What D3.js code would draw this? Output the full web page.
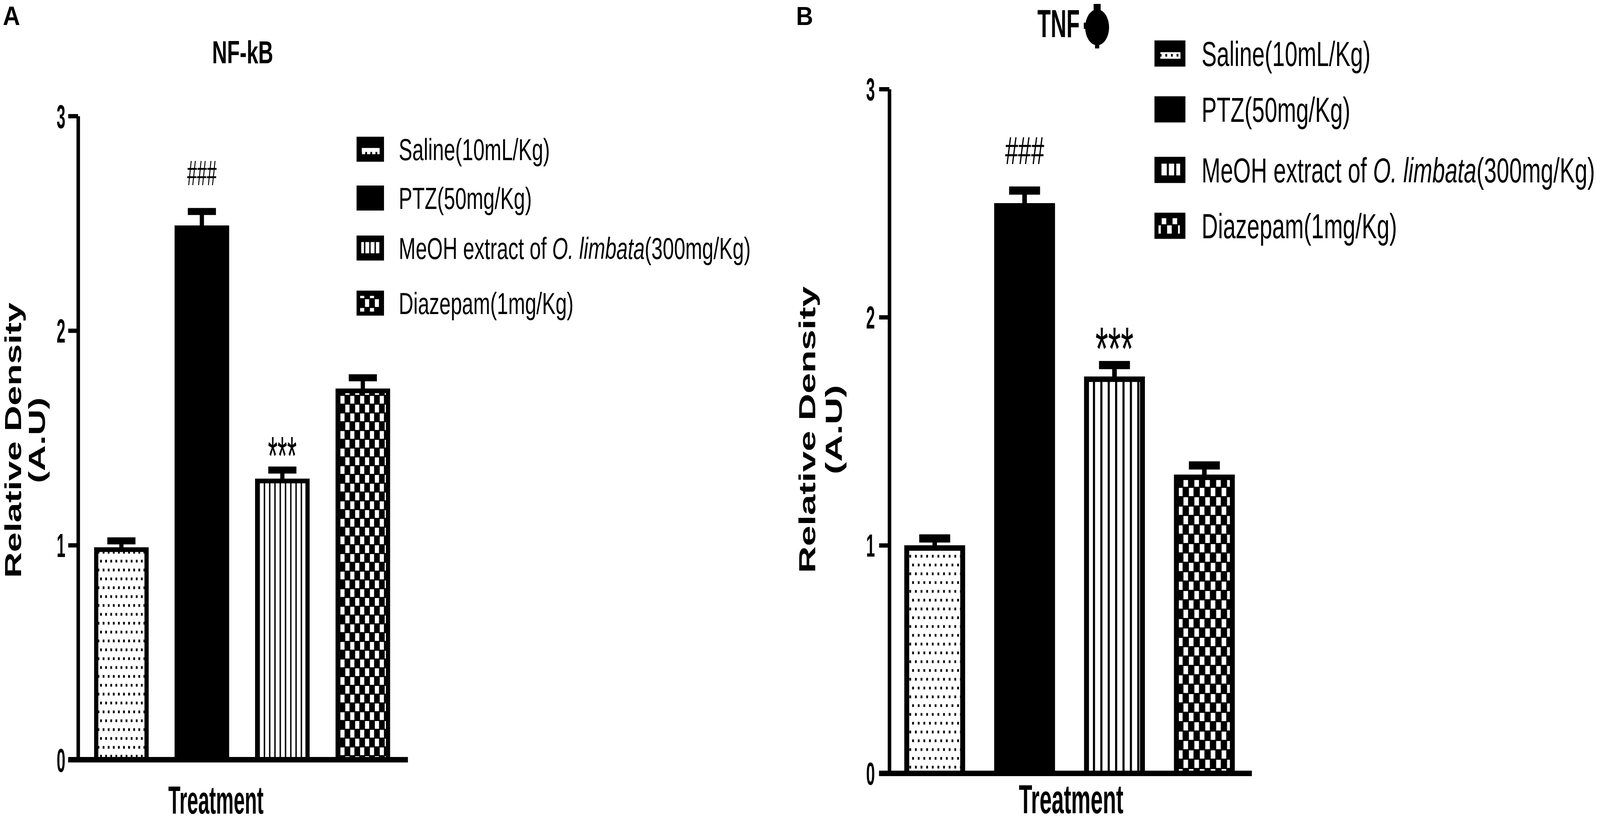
<!DOCTYPE html>
<html><head><meta charset="utf-8">
<script src="https://cdn.jsdelivr.net/npm/d3@7"></script>
<style>html,body{margin:0;padding:0;background:#fff;overflow:hidden;width:100%;height:100%;} svg{display:block;position:absolute;left:0;top:0;width:100vw;height:100vh;}</style>
</head><body><svg id="chart" viewBox="0 0 4550 2107" preserveAspectRatio="none"></svg>
<script>
// ---------------- data ----------------
const categories = ["Saline(10mL/Kg)", "PTZ(50mg/Kg)", "MeOH extract of O. limbata(300mg/Kg)", "Diazepam(1mg/Kg)"];
const patternNames = ["dots", "solid", "lines", "checker"];
const yTicks = [0, 1, 2, 3];
const nfkbMeans = [0.99, 2.49, 1.31, 1.73];
const nfkbSEM   = [0.03, 0.065, 0.04, 0.05];
const nfkbMarks = ["", "###", "***", ""];
const tnfMeans  = [1.00, 2.50, 1.74, 1.31];
const tnfSEM    = [0.03, 0.055, 0.05, 0.04];
const tnfMarks  = ["", "###", "***", ""];
const panelLetters = ["A", "B"];
const panelTitles = ["NF-kB", "TNF"];
const yTitleLines = ["Relative Density", "(A.U)"];
const xTitle = "Treatment";

// ---------------- layout ----------------
const FONT = "'Liberation Sans', Arial, Helvetica, sans-serif";
const svg = d3.select("#chart");
svg.append("rect").attr("width", 4550).attr("height", 2107).attr("fill", "#fff");
const defs = svg.append("defs");

function text(g, x, y, str, o) {
  const t = g.append("text")
    .attr("transform", `translate(${x},${y}) rotate(${o.rotate || 0}) scale(${o.sx || 1},1)`)
    .attr("font-family", FONT)
    .attr("font-size", o.size)
    .attr("font-weight", o.weight || "normal")
    .attr("text-anchor", o.anchor || "start")
    .attr("fill", "#000");
  if (str !== null) t.text(str);
  return t;
}

function makePatterns(prefix, p) {
  const d = defs.append("pattern").attr("id", prefix + "dots").attr("patternUnits", "userSpaceOnUse")
    .attr("width", p.dotW).attr("height", p.dotH);
  d.append("rect").attr("width", p.dotW).attr("height", p.dotH).attr("fill", "#fff");
  d.append("rect").attr("x", 2).attr("y", 3).attr("width", 5).attr("height", 7).attr("fill", "#000");
  d.append("rect").attr("x", 2 + p.dotW / 2).attr("y", 3 + p.dotH / 2).attr("width", 5).attr("height", 7).attr("fill", "#000");
  const l = defs.append("pattern").attr("id", prefix + "lines").attr("patternUnits", "userSpaceOnUse")
    .attr("width", p.linePitch).attr("height", 10);
  l.append("rect").attr("width", p.linePitch).attr("height", 10).attr("fill", "#fff");
  l.append("rect").attr("x", 0).attr("width", p.lineW).attr("height", 10).attr("fill", "#000");
  const c = defs.append("pattern").attr("id", prefix + "checker").attr("patternUnits", "userSpaceOnUse")
    .attr("width", p.chkW).attr("height", p.chkH);
  c.append("rect").attr("width", p.chkW).attr("height", p.chkH).attr("fill", "#000");
  const rw = p.chkW * 0.42, rh = p.chkH * 0.44;
  c.append("rect").attr("x", 2).attr("y", 1).attr("width", rw).attr("height", rh).attr("fill", "#fff");
  c.append("rect").attr("x", 2 + p.chkW / 2).attr("y", 1 + p.chkH / 2).attr("width", rw).attr("height", rh).attr("fill", "#fff");
}

function fillFor(prefix, name) {
  return name === "solid" ? "#000" : `url(#${prefix}${name})`;
}

const panels = [
  { id: "L", means: nfkbMeans, sem: nfkbSEM, marks: nfkbMarks, letter: panelLetters[0], title: panelTitles[0],
    letterX: 8, letterY: 64, letterSize: 68,
    titleX: 690, titleY: 162, titleSize: 82, titleSx: 0.72,
    axisX: 222, y0: 1945, y3: 297, tickLen: 28, tickLabelX: 186, tickSize: 86, tickSx: 0.52,
    band: [231, 1146], pi: 0.322, po: 0.16, xStart: 194, xEnd: 1160,
    sw: 12, capW: 80, capT: 18, stemW: 12,
    hashSize: 90, hashSx: 0.56, hashGap: 58, astSize: 140, astSx: 0.5, astGap: 40,
    yt1X: 60, yt2X: 128, ytY: 1127, ytSize: 65, yt1Len: 705, yt2Len: 220,
    xtX: 614, xtY: 2083, xtSize: 100, xtSx: 0.567,
    legBoxX: 1014, legBoxW: 78, legBoxH: 64, legRows: [382, 507, 635, 776], legTextX: 1134, legSize: 78, legSx: 0.74,
    pat: { dotW: 14.5, dotH: 45.4, linePitch: 15, lineW: 4, chkW: 28, chkH: 45 } },
  { id: "R", means: tnfMeans, sem: tnfSEM, marks: tnfMarks, letter: panelLetters[1], title: panelTitles[1],
    letterX: 2264, letterY: 64, letterSize: 67,
    titleX: 2950, titleY: 95, titleSize: 100, titleSx: 0.62,
    axisX: 2529, y0: 1980, y3: 228, tickLen: 29, tickLabelX: 2488, tickSize: 82, tickSx: 0.55,
    band: [2535, 3548], pi: 0.323, po: 0.143, xStart: 2500, xEnd: 3560,
    sw: 14, capW: 88, capT: 21, stemW: 13,
    hashSize: 101, hashSx: 0.66, hashGap: 57, astSize: 155, astSx: 0.6, astGap: 45,
    yt1X: 2318, yt2X: 2394, ytY: 1100, ytSize: 65, yt1Len: 734, yt2Len: 229,
    xtX: 3046, xtY: 2082, xtSize: 103, xtSx: 0.604,
    legBoxX: 3283, legBoxW: 88, legBoxH: 67, legRows: [137, 280, 435, 578], legTextX: 3417, legSize: 89, legSx: 0.725,
    pat: { dotW: 16, dotH: 45, linePitch: 21, lineW: 6, chkW: 31, chkH: 48 } }
];

const legendInner = {
  dots: [0.19, 0.84, 0.45, 0.70],
  lines: [0.17, 0.83, 0.26, 0.71],
  checker: [0.13, 0.82, 0.21, 0.84]
};

const RD_EM = 7.725, AU_EM = 2.388;

panels.forEach(P => {
  const pre = P.id + "_";
  makePatterns(pre, P.pat);
  const g = svg.append("g");

  const y = d3.scaleLinear().domain([0, 3]).range([P.y0, P.y3]);
  const x = d3.scaleBand().domain(categories).range(P.band).paddingInner(P.pi).paddingOuter(P.po);

  text(g, P.letterX, P.letterY, P.letter, { size: P.letterSize, weight: "bold" });
  text(g, P.titleX, P.titleY, P.title, { size: P.titleSize, weight: "bold", anchor: P.id === "L" ? "middle" : "start", sx: P.titleSx });
  if (P.id === "R") {
    const bx = 3120;
    g.append("ellipse").attr("cx", bx).attr("cy", 70).attr("rx", 34).attr("ry", 46).attr("fill", "#000");
    g.append("rect").attr("x", bx - 10).attr("y", 10).attr("width", 20).attr("height", 22).attr("fill", "#000");
    g.append("rect").attr("x", bx - 6).attr("y", 108).attr("width", 12).attr("height", 16).attr("fill", "#000");
    g.append("rect").attr("x", bx - 38).attr("y", 58).attr("width", 8).attr("height", 16).attr("fill", "#000");
  }

  const bars = g.append("g");
  categories.forEach((c, i) => {
    const bx = x(c), bw = x.bandwidth();
    const top = y(P.means[i]);
    bars.append("rect")
      .attr("x", bx + P.sw / 2).attr("y", top + P.sw / 2)
      .attr("width", bw - P.sw).attr("height", P.y0 - top - P.sw / 2)
      .attr("fill", fillFor(pre, patternNames[i]))
      .attr("stroke", "#000").attr("stroke-width", P.sw);
    const cx = bx + bw / 2, ey = y(P.means[i] + P.sem[i]);
    bars.append("rect").attr("x", cx - P.stemW / 2).attr("y", ey).attr("width", P.stemW).attr("height", top - ey + 2).attr("fill", "#000");
    bars.append("rect").attr("x", cx - P.capW / 2).attr("y", ey - P.capT / 2).attr("width", P.capW).attr("height", P.capT).attr("fill", "#000");
    const capTop = ey - P.capT / 2;
    const m = P.marks[i];
    if (m === "###") {
      text(bars, cx, capTop - P.hashGap, m, { size: P.hashSize, anchor: "middle", sx: P.hashSx });
    } else if (m === "***") {
      text(bars, cx, capTop - P.astGap + 0.43 * P.astSize, m, { size: P.astSize, anchor: "middle", sx: P.astSx });
    }
  });

  const ax = g.append("g").attr("transform", `translate(${P.axisX},0)`)
    .call(d3.axisLeft(y).tickValues(yTicks).tickSize(P.tickLen).tickSizeOuter(0).tickFormat(""));
  ax.select(".domain").attr("stroke", "#000").attr("stroke-width", 10);
  ax.selectAll(".tick line").attr("stroke", "#000").attr("stroke-width", 11);
  yTicks.forEach(v => {
    text(g, P.tickLabelX, y(v) + 0.358 * P.tickSize, String(v), { size: P.tickSize, weight: "bold", anchor: "end", sx: P.tickSx });
  });

  g.append("line").attr("x1", P.xStart).attr("x2", P.xEnd).attr("y1", P.y0).attr("y2", P.y0)
    .attr("stroke", "#000").attr("stroke-width", 14);

  text(g, P.yt1X, P.ytY, yTitleLines[0], { size: P.ytSize, weight: "bold", anchor: "middle", rotate: -90, sx: P.yt1Len / (RD_EM * P.ytSize) });
  text(g, P.yt2X, P.ytY, yTitleLines[1], { size: P.ytSize, weight: "bold", anchor: "middle", rotate: -90, sx: P.yt2Len / (AU_EM * P.ytSize) });

  text(g, P.xtX, P.xtY, xTitle, { size: P.xtSize, weight: "bold", anchor: "middle", sx: P.xtSx });

  const lg = g.append("g");
  categories.forEach((c, i) => {
    const cy = P.legRows[i];
    const by = cy - P.legBoxH / 2;
    lg.append("rect").attr("x", P.legBoxX).attr("y", by).attr("width", P.legBoxW).attr("height", P.legBoxH).attr("fill", "#000");
    const f = legendInner[patternNames[i]];
    if (f) {
      lg.append("rect")
        .attr("x", P.legBoxX + f[0] * P.legBoxW).attr("y", by + f[2] * P.legBoxH)
        .attr("width", (f[1] - f[0]) * P.legBoxW).attr("height", (f[3] - f[2]) * P.legBoxH)
        .attr("fill", fillFor(pre, patternNames[i]));
    }
    const t = text(lg, P.legTextX, cy + 0.36 * P.legSize, null, { size: P.legSize, sx: P.legSx });
    const k = c.indexOf("O. limbata");
    if (k >= 0) {
      t.append("tspan").text(c.slice(0, k));
      t.append("tspan").attr("font-style", "italic").text("O. limbata");
      t.append("tspan").text(c.slice(k + "O. limbata".length));
    } else {
      t.text(c);
    }
  });
});
</script>
</body></html>
